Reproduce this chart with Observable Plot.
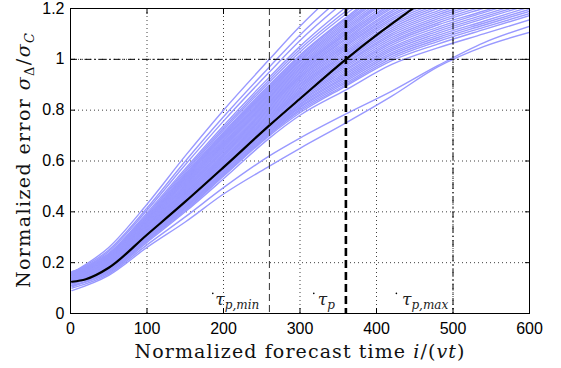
<!DOCTYPE html>
<html>
<head>
<meta charset="utf-8">
<script src="https://cdn.jsdelivr.net/npm/d3@7"></script>
<script src="https://cdn.jsdelivr.net/npm/@observablehq/plot@0.6"></script>
<style>
  html, body { margin: 0; padding: 0; background: #fff; }
</style>
</head>
<body>
<div id="chart"></div>
<script>
// ---- data ----
const xTicks = [0, 100, 200, 300, 400, 500, 600];
const yTicks = [0, 0.2, 0.4, 0.6, 0.8, 1, 1.2];
const yTickLabels = ["0", "0.2", "0.4", "0.6", "0.8", "1", "1.2"];

// sample positions of the individual forecast-error curves
const curveX = [2, 50, 100, 150, 200, 260, 300, 360, 420, 480, 540, 600];
const blueCurves = [
  [0.09, 0.15, 0.26, 0.36, 0.47, 0.58, 0.65, 0.75, 0.855, 0.97, 1.05, 1.106],
  [0.10, 0.155, 0.27, 0.38, 0.495, 0.62, 0.69, 0.785, 0.875, 0.975, 1.065, 1.13],
  [0.11, 0.16, 0.28, 0.40, 0.53, 0.69, 0.78, 0.88, 0.98, 1.045, 1.10, 1.155],
  [0.12, 0.165, 0.285, 0.405, 0.54, 0.70, 0.79, 0.895, 0.995, 1.06, 1.117, 1.172],
  [0.125, 0.17, 0.288, 0.41, 0.544, 0.705, 0.797, 0.90, 1.003, 1.07, 1.126, 1.18],
  [0.105, 0.17, 0.29, 0.415, 0.548, 0.71, 0.803, 0.907, 1.011, 1.078, 1.134, 1.189],
  [0.14, 0.175, 0.293, 0.418, 0.552, 0.715, 0.81, 0.914, 1.019, 1.086, 1.142, 1.197],
  [0.13, 0.17, 0.295, 0.42, 0.556, 0.72, 0.814, 0.921, 1.026, 1.094, 1.15, 1.206],
  [0.11, 0.165, 0.297, 0.425, 0.56, 0.725, 0.82, 0.928, 1.034, 1.102, 1.16, 1.215],
  [0.115, 0.175, 0.30, 0.43, 0.565, 0.73, 0.825, 0.934, 1.041, 1.11, 1.167, 1.223],
  [0.14, 0.18, 0.30, 0.432, 0.569, 0.735, 0.831, 0.941, 1.048, 1.118, 1.175, 1.231],
  [0.12, 0.175, 0.305, 0.435, 0.573, 0.74, 0.836, 0.948, 1.056, 1.126, 1.184, 1.24],
  [0.13, 0.185, 0.307, 0.44, 0.578, 0.745, 0.842, 0.955, 1.064, 1.135, 1.19, 1.25],
  [0.135, 0.18, 0.31, 0.443, 0.582, 0.75, 0.848, 0.961, 1.071, 1.143, 1.201, 1.257],
  [0.125, 0.185, 0.31, 0.446, 0.587, 0.755, 0.853, 0.968, 1.079, 1.151, 1.209, 1.265],
  [0.145, 0.19, 0.315, 0.45, 0.591, 0.76, 0.859, 0.975, 1.086, 1.159, 1.218, 1.274],
  [0.135, 0.18, 0.318, 0.453, 0.595, 0.765, 0.865, 0.982, 1.094, 1.167, 1.226, 1.28],
  [0.12, 0.185, 0.32, 0.457, 0.60, 0.77, 0.87, 0.988, 1.101, 1.175, 1.234, 1.29],
  [0.15, 0.19, 0.32, 0.46, 0.604, 0.775, 0.876, 0.995, 1.109, 1.183, 1.242, 1.299],
  [0.13, 0.195, 0.325, 0.464, 0.608, 0.78, 0.882, 1.002, 1.116, 1.191, 1.251, 1.307],
  [0.15, 0.20, 0.327, 0.468, 0.612, 0.785, 0.888, 1.009, 1.124, 1.20, 1.26, 1.315],
  [0.14, 0.19, 0.33, 0.471, 0.617, 0.79, 0.893, 1.016, 1.132, 1.208, 1.268, 1.325],
  [0.125, 0.20, 0.33, 0.475, 0.622, 0.795, 0.899, 1.022, 1.139, 1.216, 1.276, 1.333],
  [0.155, 0.195, 0.335, 0.478, 0.626, 0.80, 0.904, 1.029, 1.147, 1.224, 1.285, 1.341],
  [0.13, 0.19, 0.338, 0.482, 0.63, 0.805, 0.91, 1.036, 1.155, 1.232, 1.29, 1.35],
  [0.135, 0.20, 0.34, 0.485, 0.635, 0.81, 0.915, 1.043, 1.162, 1.24, 1.30, 1.36],
  [0.16, 0.21, 0.342, 0.488, 0.639, 0.815, 0.921, 1.05, 1.17, 1.25, 1.31, 1.37],
  [0.145, 0.205, 0.345, 0.492, 0.643, 0.82, 0.927, 1.056, 1.177, 1.257, 1.32, 1.38],
  [0.14, 0.20, 0.346, 0.495, 0.647, 0.825, 0.932, 1.063, 1.185, 1.265, 1.33, 1.39],
  [0.13, 0.205, 0.348, 0.499, 0.652, 0.83, 0.938, 1.07, 1.192, 1.273, 1.34, 1.40],
  [0.12, 0.21, 0.35, 0.503, 0.656, 0.835, 0.944, 1.077, 1.20, 1.28, 1.345, 1.405],
  [0.15, 0.21, 0.353, 0.506, 0.661, 0.84, 0.949, 1.083, 1.207, 1.29, 1.35, 1.41],
  [0.16, 0.215, 0.355, 0.51, 0.665, 0.845, 0.955, 1.09, 1.214, 1.295, 1.36, 1.42],
  [0.14, 0.21, 0.357, 0.514, 0.669, 0.85, 0.961, 1.097, 1.22, 1.30, 1.37, 1.43],
  [0.13, 0.205, 0.36, 0.517, 0.673, 0.855, 0.966, 1.103, 1.23, 1.31, 1.38, 1.44],
  [0.155, 0.215, 0.362, 0.521, 0.678, 0.86, 0.972, 1.11, 1.24, 1.32, 1.39, 1.45],
  [0.15, 0.22, 0.365, 0.525, 0.683, 0.865, 0.978, 1.117, 1.245, 1.325, 1.395, 1.455],
  [0.135, 0.22, 0.367, 0.528, 0.687, 0.87, 0.983, 1.124, 1.25, 1.33, 1.40, 1.46],
  [0.14, 0.215, 0.37, 0.532, 0.692, 0.875, 0.99, 1.13, 1.26, 1.34, 1.41, 1.47],
  [0.16, 0.22, 0.372, 0.535, 0.696, 0.88, 0.995, 1.137, 1.27, 1.35, 1.42, 1.48],
  [0.165, 0.225, 0.375, 0.538, 0.70, 0.885, 1.00, 1.144, 1.275, 1.36, 1.43, 1.49],
  [0.145, 0.225, 0.377, 0.542, 0.704, 0.89, 1.006, 1.151, 1.28, 1.37, 1.44, 1.50],
  [0.15, 0.23, 0.38, 0.546, 0.709, 0.895, 1.012, 1.158, 1.29, 1.375, 1.445, 1.505],
  [0.16, 0.228, 0.382, 0.549, 0.713, 0.90, 1.017, 1.164, 1.30, 1.38, 1.45, 1.51],
  [0.15, 0.231, 0.387, 0.556, 0.722, 0.91, 1.029, 1.178, 1.31, 1.40, 1.47, 1.53],
  [0.155, 0.235, 0.39, 0.563, 0.73, 0.92, 1.04, 1.19, 1.325, 1.415, 1.485, 1.545],
  [0.165, 0.237, 0.396, 0.57, 0.739, 0.93, 1.051, 1.205, 1.34, 1.43, 1.50, 1.56],
  [0.155, 0.244, 0.406, 0.585, 0.757, 0.95, 1.074, 1.232, 1.37, 1.47, 1.54, 1.60],
  [0.16, 0.25, 0.415, 0.599, 0.774, 0.97, 1.096, 1.259, 1.41, 1.51, 1.58, 1.64],
  [0.16, 0.26, 0.43, 0.62, 0.80, 1.00, 1.13, 1.30, 1.45, 1.55, 1.62, 1.68]
];

// mean curve
const meanX = [2, 20, 50, 100, 150, 200, 260, 300, 360, 400, 450, 480];
const meanY = [0.125, 0.135, 0.18, 0.31, 0.44, 0.575, 0.74, 0.845, 1.0, 1.095, 1.205, 1.27];

// reference lines
const tauMin = 260, tauP = 360, tauMax = 500;
const errLevel = 1;

// tau annotations
const tauSubs = ["p,min", "p", "p,max"];
const tauTextX = [190, 324, 434];
const tauTextY = [0.033, 0.033, 0.033];
const tauDotX = [186, 318, 426];
const tauDotY = [0.079, 0.079, 0.079];

// ---- build rows ----
const blueRows = blueCurves.flatMap((vals, id) => vals.map((y, i) => ({id, x: curveX[i], y})));
const meanRows = meanX.map((x, i) => ({x, y: meanY[i]}));
const tauRows = tauSubs.map((s, i) => ({s, x: tauTextX[i], y: tauTextY[i]}));
const dotRows = tauDotX.map((x, i) => ({x, y: tauDotY[i]}));

const W = 561, H = 368;
const mL = 70, mR = 32, mT = 8, mB = 55;

const dashDot = "7,3,1.5,3";
const blank = () => "";

const chart = Plot.plot({
  width: W,
  height: H,
  marginLeft: mL,
  marginRight: mR,
  marginTop: mT,
  marginBottom: mB,
  style: {fontFamily: "'Liberation Sans', Arial, sans-serif", fontSize: "16px", background: "#fff", color: "#000"},
  x: {domain: [0, 600]},
  y: {domain: [0, 1.2]},
  marks: [
    Plot.gridX(xTicks, {stroke: "#000", strokeOpacity: 0.75, strokeDasharray: "1,3"}),
    Plot.gridY(yTicks, {stroke: "#000", strokeOpacity: 0.75, strokeDasharray: "1,3"}),
    Plot.line(blueRows, {x: "x", y: "y", z: "id", stroke: "#9999ff", strokeWidth: 1.4, curve: "monotone-x", clip: true}),
    Plot.line(meanRows, {x: "x", y: "y", stroke: "#000", strokeWidth: 2.2, curve: "monotone-x", clip: true}),
    Plot.ruleY([errLevel], {stroke: "#000", strokeWidth: 1, strokeDasharray: dashDot}),
    Plot.ruleX([tauMin], {stroke: "#333", strokeWidth: 1, strokeDasharray: "7,4"}),
    Plot.ruleX([tauP], {stroke: "#000", strokeWidth: 2.6, strokeDasharray: "8,4"}),
    Plot.ruleX([tauMax], {stroke: "#000", strokeWidth: 1, strokeDasharray: dashDot}),
    Plot.dot(dotRows, {x: "x", y: "y", r: 0.8, fill: "#000", stroke: null}),
    Plot.frame({stroke: "#000", strokeWidth: 1}),
    // inward ticks on all four sides
    Plot.axisX(xTicks, {anchor: "bottom", tickSize: -5, tickFormat: blank, label: null}),
    Plot.axisX(xTicks, {anchor: "top", tickSize: -5, tickFormat: blank, label: null}),
    Plot.axisY(yTicks, {anchor: "left", tickSize: -5, tickFormat: blank, label: null}),
    Plot.axisY(yTicks, {anchor: "right", tickSize: -5, tickFormat: blank, label: null}),
    // tick labels
    Plot.axisX(xTicks, {anchor: "bottom", tickSize: 0, tickPadding: 9, label: null, fontSize: 16}),
    Plot.axisY(yTicks, {anchor: "left", tickSize: 0, tickPadding: 6, label: null, fontSize: 16,
      tickFormat: d => yTickLabels[yTicks.indexOf(d)]})
  ]
});

document.getElementById("chart").appendChild(chart);

// ---- rich-text labels (math) ----
const svg = d3.select(chart);
const sx = chart.scale("x"), sy = chart.scale("y");
const serif = "'DejaVu Serif', 'Liberation Serif', serif";

// tau annotations
tauRows.forEach(r => {
  const t = svg.append("text")
    .attr("x", sx.apply(r.x)).attr("y", sy.apply(r.y))
    .attr("text-anchor", "start")
    .style("font-family", serif).style("font-style", "italic")
    .style("fill", "#222");
  t.append("tspan").style("font-size", "17px").text("τ");
  t.append("tspan").style("font-size", "12px").attr("dy", 4).text(r.s);
});

// x label
const plotCx = mL + (W - mL - mR) / 2;
const xl = svg.append("text")
  .attr("x", plotCx).attr("y", 358)
  .attr("text-anchor", "middle")
  .style("font-family", serif).style("font-size", "19px").style("fill", "#111")
  .attr("textLength", 330).attr("lengthAdjust", "spacing");
xl.append("tspan").text("Normalized forecast time ");
xl.append("tspan").style("font-style", "italic").text("i");
xl.append("tspan").text("/(");
xl.append("tspan").style("font-style", "italic").text("vt");
xl.append("tspan").text(")");

// y label
const plotCy = mT + (H - mT - mB) / 2;
const yl = svg.append("text")
  .attr("transform", `translate(30,${plotCy}) rotate(-90)`)
  .attr("text-anchor", "middle")
  .style("font-family", serif).style("font-size", "19px").style("fill", "#111")
  .attr("textLength", 255).attr("lengthAdjust", "spacing");
yl.append("tspan").text("Normalized error ");
yl.append("tspan").style("font-style", "italic").text("σ");
yl.append("tspan").style("font-size", "13px").attr("dy", 4).text("Δ");
yl.append("tspan").attr("dy", -4).text("/");
yl.append("tspan").style("font-style", "italic").text("σ");
yl.append("tspan").style("font-size", "13px").style("font-style", "italic").attr("dy", 4).text("C");
</script>
</body>
</html>
